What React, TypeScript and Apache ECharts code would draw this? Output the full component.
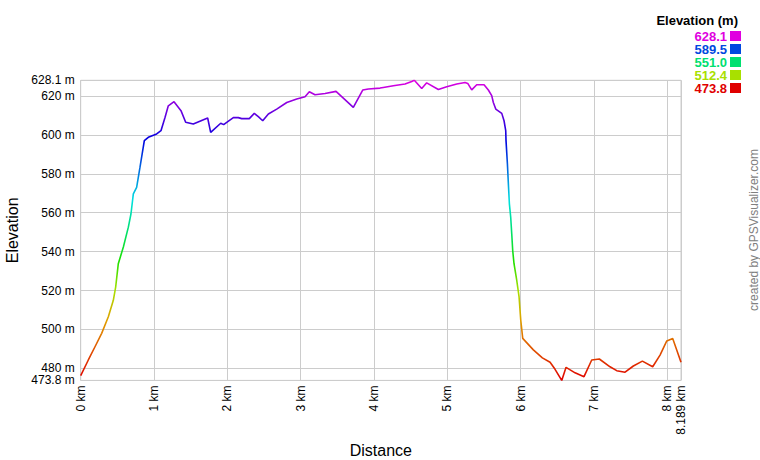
import React, { useEffect, useRef } from "react";
import * as echarts from "echarts";

const distanceKm = [
  0.0, 0.104, 0.195, 0.286, 0.377, 0.445, 0.477, 0.513, 0.582, 0.65, 0.686, 0.718, 0.763, 0.809, 0.868, 0.922,
  1.036, 1.095, 1.15, 1.195, 1.273, 1.368, 1.432, 1.536, 1.732, 1.773, 1.91, 1.95, 1.992,
  2.082, 2.15, 2.196, 2.3, 2.368, 2.423, 2.483, 2.56, 2.674, 2.811, 2.947,
  3.06, 3.119, 3.196, 3.333, 3.483, 3.719, 3.847, 3.924,
  4.083, 4.128, 4.265, 4.424, 4.516, 4.551, 4.652, 4.72, 4.879, 4.993,
  5.13, 5.243, 5.28, 5.334, 5.402, 5.502, 5.561, 5.607, 5.629, 5.662, 5.744, 5.775, 5.798, 5.802, 5.821,
  5.834, 5.848, 5.866, 5.88, 5.893, 5.911, 5.948, 5.98,
  6.003, 6.03, 6.175, 6.298, 6.403, 6.471, 6.562, 6.621, 6.744, 6.866, 6.971,
  7.075, 7.221, 7.312, 7.426, 7.539, 7.662, 7.803, 7.903, 7.995,
  8.076, 8.189,
];

const elevationM = [
  476.3, 484.3, 491.1, 498.0, 506.5, 515.0, 521.8, 533.8, 542.4, 552.6, 559.5, 569.7, 573.1, 583.4, 597.1, 598.8,
  600.5, 602.2, 609.0, 615.0, 617.1, 612.5, 606.5, 605.6, 608.7, 601.3, 606.0, 605.3, 606.5,
  608.9, 608.9, 608.4, 608.4, 611.1, 609.4, 607.3, 610.8, 613.3, 616.7, 618.5,
  619.6, 622.2, 620.7, 621.3, 622.4, 614.2, 623.1, 623.6,
  624.1, 624.4, 625.3, 626.2, 627.5, 628.1, 623.9, 626.8, 623.4, 624.8,
  626.2, 627.0, 626.5, 623.2, 625.8, 625.8, 623.1, 620.2, 616.7, 613.3, 611.1, 607.3, 602.2, 597.1, 585.1,
  574.9, 564.6, 557.7, 549.2, 540.7, 533.8, 525.3, 516.7,
  504.8, 495.4, 489.5, 485.4, 483.1, 479.5, 473.8, 480.5, 477.7, 475.7, 484.3,
  484.8, 480.8, 478.8, 478.0, 481.2, 483.7, 480.8, 486.8, 494.1,
  495.4, 483.1,
];

const minElev = 473.8;
const maxElev = 628.1;
const maxDist = 8.189;

const yTickValues = [473.8, 480, 500, 520, 540, 560, 580, 600, 620, 628.1];
const xTickValues = [0, 1, 2, 3, 4, 5, 6, 7, 8, 8.189];

const legendValues = ["628.1", "589.5", "551.0", "512.4", "473.8"];
const legendColors = ["#e000e0", "#0048e0", "#00e070", "#a8e000", "#e00000"];

const spectrum = [
  "#e00000", "#e05000", "#e0a000", "#a8e000", "#1ae000", "#00e070",
  "#00e0e0", "#0070e0", "#0000e0", "#7000e0", "#e000e0",
];

const FONT = 'Arial, "Liberation Sans", sans-serif';

export default function App() {
  const ref = useRef<HTMLDivElement>(null);

  useEffect(() => {
    document.body.style.margin = "0";
    const chart = echarts.init(ref.current!, null, { renderer: "svg" });

    const legendGraphics: any[] = [
      {
        type: "text",
        right: 22,
        top: 14,
        style: { text: "Elevation (m)", font: `bold 13px ${FONT}`, fill: "#000" },
      },
    ];
    legendValues.forEach((v, i) => {
      legendGraphics.push({
        type: "text",
        x: 727,
        y: 36 + i * 13,
        style: {
          text: v,
          font: `bold 13px ${FONT}`,
          fill: legendColors[i],
          align: "right",
          verticalAlign: "middle",
        },
      });
      legendGraphics.push({
        type: "rect",
        shape: { x: 730, y: 31 + i * 13, width: 11, height: 10 },
        style: { fill: legendColors[i] },
      });
    });
    legendGraphics.push({
      type: "text",
      x: 754,
      y: 230,
      rotation: Math.PI / 2,
      style: {
        text: "created by GPSVisualizer.com",
        font: `12px ${FONT}`,
        fill: "#808080",
        align: "center",
        verticalAlign: "middle",
      },
    });

    chart.setOption({
      animation: false,
      backgroundColor: "#ffffff",
      grid: {
        left: 80.7,
        right: 79,
        top: 80.3,
        bottom: 79.6,
        show: true,
        borderColor: "#cccccc",
        borderWidth: 1,
        outerBoundsMode: "none",
        containLabel: false,
      },
      xAxis: {
        type: "value",
        min: 0,
        max: maxDist,
        name: "Distance",
        nameLocation: "middle",
        nameGap: 62,
        nameTextStyle: { fontSize: 16, fontFamily: FONT, color: "#000" },
        axisLine: { show: false },
        axisTick: { show: false, customValues: xTickValues },
        axisLabel: {
          customValues: xTickValues,
          rotate: 90,
          margin: 5,
          fontSize: 12,
          fontFamily: FONT,
          color: "#000",
          formatter: (v: number) => `${v} km`,
        },
        splitLine: { show: true, lineStyle: { color: "#cccccc", width: 1 } },
      },
      yAxis: {
        type: "value",
        min: minElev,
        max: maxElev,
        name: "Elevation",
        nameLocation: "middle",
        nameGap: 60,
        nameTextStyle: { fontSize: 16, fontFamily: FONT, color: "#000" },
        axisLine: { show: false },
        axisTick: { show: false, customValues: yTickValues },
        axisLabel: {
          customValues: yTickValues,
          margin: 6,
          fontSize: 12,
          fontFamily: FONT,
          color: "#000",
          formatter: (v: number) => `${v} m`,
        },
        splitLine: { show: true, lineStyle: { color: "#cccccc", width: 1 } },
      },
      visualMap: {
        type: "continuous",
        show: false,
        dimension: 1,
        seriesIndex: 0,
        min: minElev,
        max: maxElev,
        inRange: { color: spectrum },
      },
      series: [
        {
          type: "line",
          data: distanceKm.map((d, i) => [d, elevationM[i]]),
          showSymbol: false,
          smooth: false,
          lineStyle: { width: 1.6 },
        },
      ],
      graphic: legendGraphics,
    });

    return () => chart.dispose();
  }, []);

  return <div ref={ref} style={{ width: 760, height: 460 }} />;
}
